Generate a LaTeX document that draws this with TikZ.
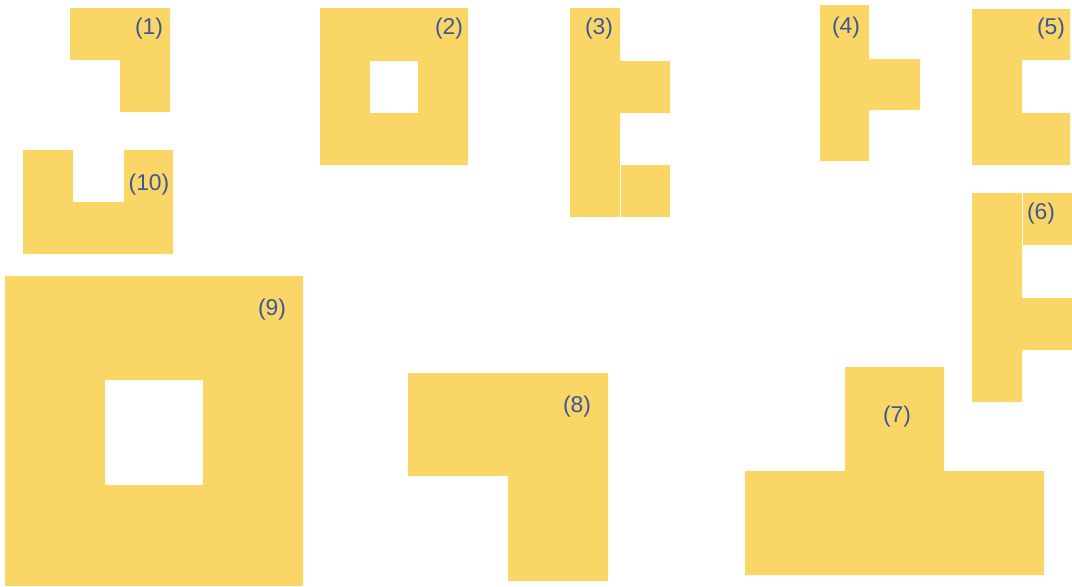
\documentclass[tikz,border=0pt]{standalone}
\usepackage{fontspec}
\setmainfont{Liberation Sans}
\usepackage{tikz}

\definecolor{tileyellow}{RGB}{250,214,102}
\definecolor{numblue}{RGB}{62,86,150}

\begin{document}
\begin{tikzpicture}[
        x=0.2mm, y=-0.2mm,
        tile/.style={
            fill=tileyellow,
            draw=none
        },
        holed/.style={tile, even odd rule},
        num/.style={
            font=\fontsize{13}{13}\selectfont,
            text=numblue,
            inner sep=0pt
        }
    ]

    \useasboundingbox (0,0) rectangle (1072,586);

    % top row
    \fill[tile] (70,8) -- (170,8) -- (170,112) -- (120,112) -- (120,60) -- (70,60) -- cycle;
    \fill[holed] (320,8) rectangle (468,165) (370,61) rectangle (418,113);
    \fill[tile] (570,8) -- (620,8) -- (620,61) -- (670,61) -- (670,113) -- (620,113)
        -- (620,217) -- (570,217) -- cycle;
    \fill[tile] (621,165) rectangle (670,217);
    \fill[tile] (820,5) -- (869,5) -- (869,59) -- (920,59) -- (920,110) -- (869,110)
        -- (869,161) -- (820,161) -- cycle;
    \fill[tile] (972,9) -- (1070,9) -- (1070,60) -- (1022,60) -- (1022,113) -- (1070,113)
        -- (1070,165) -- (972,165) -- cycle;

    % second row
    \fill[tile] (23,150) -- (73,150) -- (73,202) -- (124,202) -- (124,150) -- (173,150)
        -- (173,254) -- (23,254) -- cycle;
    \fill[tile] (972,193) -- (1022,193) -- (1022,298) -- (1072,298) -- (1072,350)
        -- (1022,350) -- (1022,402) -- (972,402) -- cycle;
    \fill[tile] (1023,193) rectangle (1072,245);

    % large pieces
    \fill[holed] (5,276) rectangle (303,586) (105,380) rectangle (203,485);
    \fill[tile] (408,373) -- (608,373) -- (608,581) -- (508,581) -- (508,476) -- (408,476) -- cycle;
    \fill[tile] (845,367) -- (944,367) -- (944,471) -- (1044,471) -- (1044,575) -- (745,575)
        -- (745,471) -- (845,471) -- cycle;

    \node[num] (n1) at (149,29) {(1)};
    \node[num] (n2) at (449,29) {(2)};
    \node[num] (n3) at (599,29) {(3)};
    \node[num] (n4) at (846,28) {(4)};
    \node[num] (n5) at (1051,29) {(5)};
    \node[num] (n6) at (1041,214) {(6)};
    \node[num] (n7) at (897,417) {(7)};
    \node[num] (n8) at (577,407) {(8)};
    \node[num] (n9) at (272,310) {(9)};
    \node[num] (n10) at (149,185) {(10)};

    \end{tikzpicture}
\end{document}
